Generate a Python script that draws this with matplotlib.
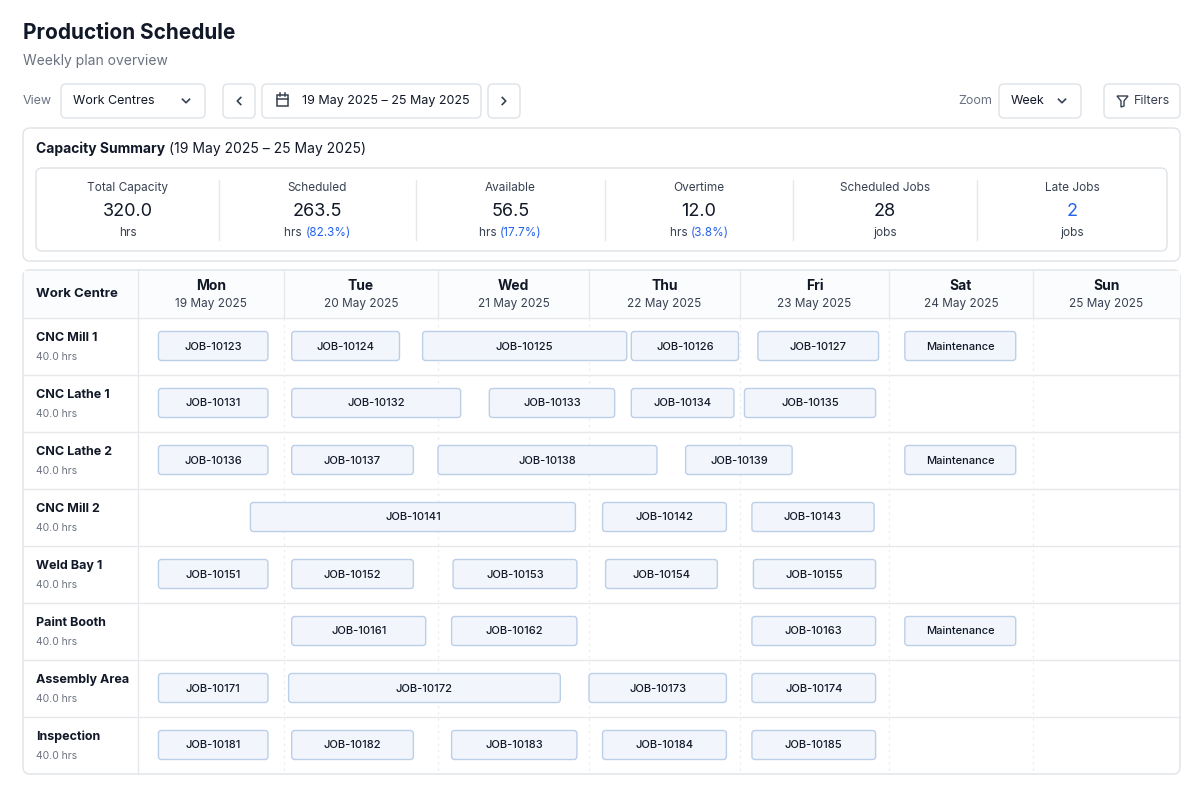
import matplotlib
matplotlib.use("Agg")
import matplotlib.pyplot as plt
from matplotlib.patches import FancyBboxPatch, Rectangle, Polygon
import numpy as np

plt.rcParams['font.family'] = ['Inter', 'DejaVu Sans']

# ---- data ----
days = ["Mon", "Tue", "Wed", "Thu", "Fri", "Sat", "Sun"]
dates = ["19 May 2025", "20 May 2025", "21 May 2025", "22 May 2025", "23 May 2025", "24 May 2025", "25 May 2025"]
work_centres = ["CNC Mill 1", "CNC Lathe 1", "CNC Lathe 2", "CNC Mill 2", "Weld Bay 1", "Paint Booth", "Assembly Area", "Inspection"]
centre_hours = ["40.0 hrs"] * 8
summary_labels = ["Total Capacity", "Scheduled", "Available", "Overtime", "Scheduled Jobs", "Late Jobs"]
summary_values = ["320.0", "263.5", "56.5", "12.0", "28", "2"]
summary_units = ["hrs", "hrs", "hrs", "hrs", "jobs", "jobs"]
summary_pct = ["", "(82.3%)", "(17.7%)", "(3.8%)", "", ""]
# jobs: (row, label, start_day, end_day) day units, Mon=0
jobs = [
    (0, "JOB-10123", 0.14, 0.89), (0, "JOB-10124", 1.05, 1.75), (0, "JOB-10125", 1.90, 3.25),
    (0, "JOB-10126", 3.28, 3.99), (0, "JOB-10127", 4.12, 4.93), (0, "Maintenance", 5.11, 5.88),
    (1, "JOB-10131", 0.14, 0.89), (1, "JOB-10132", 1.05, 2.15), (1, "JOB-10133", 2.34, 3.17),
    (1, "JOB-10134", 3.28, 3.96), (1, "JOB-10135", 4.03, 4.91),
    (2, "JOB-10136", 0.14, 0.89), (2, "JOB-10137", 1.05, 1.84), (2, "JOB-10138", 2.00, 3.45),
    (2, "JOB-10139", 3.64, 4.35), (2, "Maintenance", 5.11, 5.88),
    (3, "JOB-10141", 0.77, 2.91), (3, "JOB-10142", 3.09, 3.91), (3, "JOB-10143", 4.08, 4.90),
    (4, "JOB-10151", 0.14, 0.89), (4, "JOB-10152", 1.05, 1.84), (4, "JOB-10153", 2.10, 2.92),
    (4, "JOB-10154", 3.11, 3.85), (4, "JOB-10155", 4.09, 4.91),
    (5, "JOB-10161", 1.05, 1.92), (5, "JOB-10162", 2.09, 2.92), (5, "JOB-10163", 4.08, 4.91),
    (5, "Maintenance", 5.11, 5.88),
    (6, "JOB-10171", 0.14, 0.89), (6, "JOB-10172", 1.03, 2.81), (6, "JOB-10173", 3.00, 3.91),
    (6, "JOB-10174", 4.08, 4.91),
    (7, "JOB-10181", 0.14, 0.89), (7, "JOB-10182", 1.05, 1.84), (7, "JOB-10183", 2.09, 2.92),
    (7, "JOB-10184", 3.09, 3.91), (7, "JOB-10185", 4.08, 4.91),
]

# ---- layout ----
col_edges = [138, 284, 438, 589, 740, 889, 1033, 1180]
row_top, row_h, header_top = 318, 57, 270
DARK = "#111827"; GRAY = "#6b7280"; MID = "#374151"; LINE = "#e6e8eb"; BLUE = "#2563eb"

fig = plt.figure(figsize=(12, 8), dpi=100)
ax = fig.add_axes([0, 0, 1, 1])
ax.set_xlim(0, 1200); ax.set_ylim(800, 0); ax.axis("off")
fig.patch.set_facecolor("white")

def rbox(x0, y0, x1, y1, fc="white", ec="#dfe3e8", r=5, lw=1.0, z=1):
    ax.add_patch(FancyBboxPatch((x0, y0), x1 - x0, y1 - y0, boxstyle=f"round,pad=0,rounding_size={r}",
                                fc=fc, ec=ec, lw=lw, zorder=z, mutation_aspect=1))

def chevron(cx, cy, d, s=3.5, c=MID):
    if d == "down":
        ax.plot([cx - s, cx, cx + s], [cy - s / 2, cy + s / 2, cy - s / 2], color=c, lw=1.2, zorder=5)
    elif d == "left":
        ax.plot([cx + s / 2, cx - s / 2, cx + s / 2], [cy - s, cy, cy + s], color=c, lw=1.2, zorder=5)
    else:
        ax.plot([cx - s / 2, cx + s / 2, cx - s / 2], [cy - s, cy, cy + s], color=c, lw=1.2, zorder=5)

# title
ax.text(23, 33, "Production Schedule", fontsize=15, weight="bold", color=DARK, va="center")
ax.text(23, 61, "Weekly plan overview", fontsize=10, color=GRAY, va="center")

# toolbar
ty = 101
ax.text(23, ty, "View", fontsize=9, color=GRAY, va="center")
rbox(61, 84, 205, 118); ax.text(73, ty, "Work Centres", fontsize=9, color=DARK, va="center"); chevron(186, ty, "down")
rbox(223, 84, 255, 118); chevron(239, ty, "left")
rbox(262, 84, 481, 118)
ax.add_patch(Rectangle((277, 95), 11, 11, fill=False, ec=MID, lw=1.1, zorder=5))
ax.plot([277, 288], [98.5, 98.5], color=MID, lw=1.1, zorder=5)
ax.plot([280, 280], [93, 96], color=MID, lw=1.1, zorder=5); ax.plot([285, 285], [93, 96], color=MID, lw=1.1, zorder=5)
ax.text(302, ty, "19 May 2025 – 25 May 2025", fontsize=9, color=DARK, va="center")
rbox(488, 84, 520, 118); chevron(504, ty, "right")
ax.text(958, ty, "Zoom", fontsize=9, color=GRAY, va="center")
rbox(999, 84, 1081, 118); ax.text(1011, ty, "Week", fontsize=9, color=DARK, va="center"); chevron(1062, ty, "down")
rbox(1104, 84, 1180, 118)
ax.add_patch(Polygon([[1117, 96], [1128, 96], [1124, 101], [1124, 106], [1121, 107], [1121, 101]], closed=True,
                     fill=False, ec=MID, lw=1.0, zorder=5))
ax.text(1134, ty, "Filters", fontsize=9, color=MID, va="center")

# capacity summary
rbox(23, 128, 1180, 261, r=7)
t = ax.text(36, 149, "Capacity Summary", fontsize=10, weight="bold", color=DARK, va="center")
fig.canvas.draw(); rend = fig.canvas.get_renderer()
def wpx(txt):
    return txt.get_window_extent(rend).width
ax.text(36 + wpx(t) + 4, 149, "(19 May 2025 – 25 May 2025)", fontsize=10, color=DARK, va="center")
rbox(36, 168, 1167, 251, r=6)
dividers = [219, 416, 605, 793, 977]
for dx in dividers:
    ax.plot([dx, dx], [180, 240], color=LINE, lw=1, zorder=3)
bounds = [36] + dividers + [1167]
for i, lab in enumerate(summary_labels):
    cx = (bounds[i] + bounds[i + 1]) / 2
    ax.text(cx, 188, lab, fontsize=8.5, color=MID, ha="center", va="center")
    ax.text(cx, 211, summary_values[i], fontsize=13, color=BLUE if lab == "Late Jobs" else DARK, ha="center", va="center")
    if summary_pct[i]:
        a = ax.text(0, 233, summary_units[i] + " ", fontsize=8.5, color=MID, va="center")
        b = ax.text(0, 233, summary_pct[i], fontsize=8.5, color=BLUE, va="center")
        wa, wb = wpx(a), wpx(b)
        x0 = cx - (wa + wb) / 2
        a.set_x(x0); b.set_x(x0 + wa)
    else:
        ax.text(cx, 233, summary_units[i], fontsize=8.5, color=MID, ha="center", va="center")

# grid panel
n = len(work_centres)
bottom = row_top + n * row_h
rbox(23, header_top, 1180, bottom, r=7)
ax.add_patch(Rectangle((23.5, header_top + 1), 1156, row_top - header_top - 1, fc="#fbfcfd", ec="none", zorder=1.5))
ax.plot([23, 1180], [row_top, row_top], color=LINE, lw=1, zorder=3)
for r in range(1, n):
    y = row_top + r * row_h
    ax.plot([23, 1180], [y, y], color=LINE, lw=1, zorder=3)
ax.plot([138, 138], [header_top, bottom], color=LINE, lw=1, zorder=3)
for e in col_edges[1:-1]:
    ax.plot([e, e], [header_top, row_top], color=LINE, lw=1, zorder=3)
    ax.plot([e, e], [row_top, bottom], color="#eceef1", lw=0.9, ls=(0, (2, 3)), zorder=3)
ax.text(36, 294, "Work Centre", fontsize=9.5, weight="bold", color=DARK, va="center")
for i, (d, dt) in enumerate(zip(days, dates)):
    cx = (col_edges[i] + col_edges[i + 1]) / 2
    ax.text(cx, 286, d, fontsize=10, weight="bold", color=DARK, ha="center", va="center")
    ax.text(cx, 304, dt, fontsize=8.5, color=MID, ha="center", va="center")
for r, (wc, hrs) in enumerate(zip(work_centres, centre_hours)):
    y0 = row_top + r * row_h
    ax.text(36, y0 + 20, wc, fontsize=9, weight="bold", color=DARK, va="center")
    ax.text(36, y0 + 39, hrs, fontsize=7.5, color=GRAY, va="center")

day_idx = np.arange(len(col_edges))
for r, lab, s, e in jobs:
    x0 = np.interp(s, day_idx, col_edges); x1 = np.interp(e, day_idx, col_edges)
    yc = row_top + r * row_h + row_h / 2 - 0.5
    rbox(x0, yc - 14.5, x1, yc + 14.5, fc="#f2f6fc", ec="#bccfe8", r=3, z=4)
    ax.text((x0 + x1) / 2, yc + 0.5, lab, fontsize=8, weight=500, color=DARK, ha="center", va="center", zorder=5)

fig.savefig("out.png", dpi=100, facecolor="white")
